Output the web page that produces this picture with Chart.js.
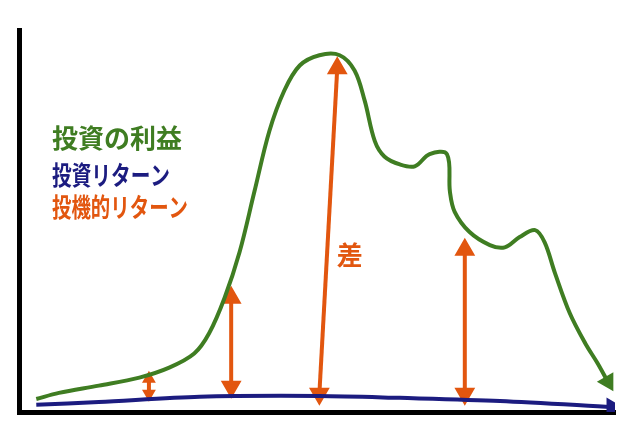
<!DOCTYPE html>
<html>
<head>
<meta charset="utf-8">
<script src="https://cdn.jsdelivr.net/npm/chart.js@4"></script>
<style>
  html, body { margin: 0; padding: 0; background: #fff; }
  #wrap { width: 627px; height: 436px; }
</style>
</head>
<body>
<div id="wrap"><canvas id="myChart"></canvas></div>
<script>
// values, x = time (0-100), y = level (0-100)
const profitX = [2.9, 6.7, 13.4, 20.2, 25.2, 29.4, 31.9, 34.5, 37.0, 39.5, 42.0, 44.5, 47.1, 50.4, 53.8, 56.3, 58.0, 59.7, 61.3, 63.9, 66.4, 68.9, 71.8, 72.3, 73.1, 75.6, 79.0, 81.5, 84.0, 86.6, 88.2, 89.9, 92.4, 95.0, 97.1, 98.8];
const profitY = [3.4, 5.0, 6.9, 9.0, 11.6, 15.3, 20.6, 29.9, 41.8, 57.7, 73.5, 84.1, 90.7, 93.4, 93.4, 89.4, 81.5, 70.9, 66.9, 64.8, 64.3, 67.5, 67.5, 57.7, 52.4, 47.1, 43.7, 43.1, 45.8, 47.6, 44.4, 36.5, 25.9, 18.0, 12.7, 7.9];

const returnX = [2.9, 13.4, 30.3, 50.4, 63.9, 80.7, 99.5];
const returnY = [1.9, 2.6, 4.0, 4.2, 3.7, 2.9, 1.3];

// gap arrows: [x bottom, y bottom, x top, y top]
const gapArrows = [
  [21.8, 4.8, 21.8, 8.7],
  [35.6, 6.6, 35.6, 29.9],
  [50.4, 4.8, 53.4, 90.0],
  [74.8, 4.8, 74.8, 42.5]
];

const seriesNames = ['投資の利益', '投資リターン', '投機的リターン'];
const diffLabel = '差';

const green = '#3f7d22';
const navy = '#1c1c80';
const orange = '#e2560f';

function pts(xs, ys) {
  return xs.map((x, i) => ({ x: x, y: ys[i] }));
}

const datasets = [];

datasets.push({
  label: seriesNames[0],
  data: pts(profitX, profitY),
  borderColor: green,
  backgroundColor: green,
  borderWidth: 4,
  tension: 0.35,
  pointStyle: 'triangle',
  pointRadius: profitX.map((x, i) => i == profitX.length - 1 ? 7 : 0),
  pointRotation: 150
});

datasets.push({
  label: seriesNames[1],
  data: pts(returnX, returnY),
  borderColor: navy,
  backgroundColor: navy,
  borderWidth: 4,
  tension: 0.3,
  pointStyle: 'triangle',
  pointRadius: returnX.map((x, i) => i == returnX.length - 1 ? 7 : 0),
  pointRotation: 90
});

gapArrows.forEach((a, i) => {
  const small = i == 0;
  datasets.push({
    label: seriesNames[2],
    data: [{ x: a[0], y: a[1] }, { x: a[2], y: a[3] }],
    borderColor: orange,
    backgroundColor: orange,
    borderWidth: 4,
    pointStyle: 'triangle',
    pointRadius: small ? 4 : 8,
    pointRotation: [180, 0]
  });
});

const textPlugin = {
  id: 'sketchText',
  afterDatasetsDraw(chart) {
    const c = chart.ctx;
    const xs = chart.scales.x, ys = chart.scales.y;
    c.save();
    c.font = 'bold 26px "Noto Sans CJK JP"';
    c.textBaseline = 'middle';
    const colors = [green, navy, orange];
    const rows = [138, 175, 207];
    const widths = [131, 118, 136];
    seriesNames.forEach((t, i) => {
      c.fillStyle = colors[i];
      c.fillText(t, 52, rows[i], widths[i]);
    });
    c.fillStyle = orange;
    c.fillText(diffLabel, xs.getPixelForValue(55.5) - 13, ys.getPixelForValue(41));
    c.restore();
  }
};

new Chart(document.getElementById('myChart'), {
  type: 'line',
  data: { datasets: datasets },
  options: {
    responsive: true,
    maintainAspectRatio: false,
    animation: false,
    layout: { padding: { left: 11, top: 30, right: 12, bottom: 16 } },
    scales: {
      x: {
        type: 'linear',
        min: 0,
        max: 100,
        grid: { display: false },
        ticks: { display: false },
        border: { color: '#000', width: 5 }
      },
      y: {
        min: 0,
        max: 100,
        grid: { display: false },
        ticks: { display: false },
        border: { color: '#000', width: 5 }
      }
    },
    plugins: { legend: { display: false }, tooltip: { enabled: false } }
  },
  plugins: [textPlugin]
});
</script>
</body>
</html>
